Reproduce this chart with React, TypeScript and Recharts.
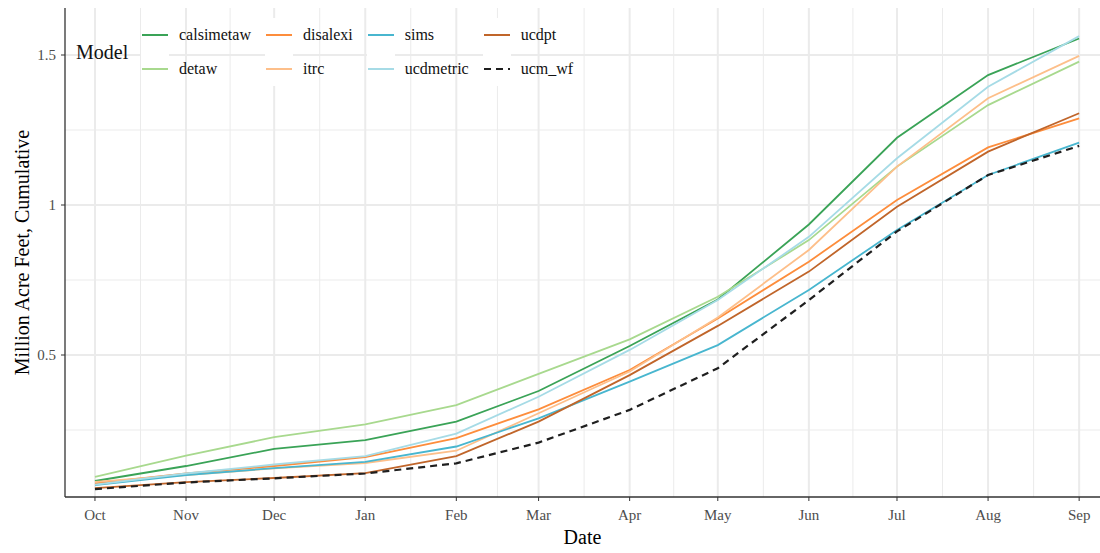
import React from 'react';
import { LineChart, Line, XAxis, YAxis, CartesianGrid, Label } from 'recharts';

const months = ['Oct', 'Nov', 'Dec', 'Jan', 'Feb', 'Mar', 'Apr', 'May', 'Jun', 'Jul', 'Aug', 'Sep'];
// days since Oct 1 for the first of each month (date axis)
const monthDays = [0, 31, 61, 92, 123, 151, 182, 212, 243, 273, 304, 335];

const calsimetaw = [0.08, 0.13, 0.187, 0.216, 0.278, 0.38, 0.53, 0.685, 0.935, 1.224, 1.433, 1.555];
const detaw = [0.094, 0.165, 0.226, 0.269, 0.333, 0.437, 0.552, 0.694, 0.883, 1.128, 1.333, 1.478];
const disalexi = [0.072, 0.105, 0.13, 0.16, 0.223, 0.319, 0.45, 0.622, 0.811, 1.017, 1.192, 1.289];
const itrc = [0.077, 0.1, 0.122, 0.14, 0.181, 0.306, 0.445, 0.625, 0.85, 1.128, 1.356, 1.497];
const sims = [0.066, 0.1, 0.123, 0.144, 0.195, 0.289, 0.411, 0.533, 0.717, 0.917, 1.1, 1.208];
const ucdmetric = [0.068, 0.105, 0.135, 0.163, 0.238, 0.361, 0.517, 0.683, 0.894, 1.156, 1.394, 1.563];
const ucdpt = [0.056, 0.076, 0.09, 0.106, 0.163, 0.278, 0.433, 0.597, 0.778, 0.994, 1.178, 1.306];
const ucm_wf = [0.053, 0.075, 0.089, 0.105, 0.139, 0.208, 0.317, 0.456, 0.683, 0.912, 1.1, 1.197];

const yMajor = [0.5, 1, 1.5];
const yMinor = [0.25, 0.75, 1.25];
const yTickLabels = ['0.5', '1', '1.5'];

const series = [
  { name: 'calsimetaw', values: calsimetaw, color: '#3aa357', dash: undefined },
  { name: 'detaw', values: detaw, color: '#a8d98e', dash: undefined },
  { name: 'disalexi', values: disalexi, color: '#fd8d3c', dash: undefined },
  { name: 'itrc', values: itrc, color: '#fdbf8a', dash: undefined },
  { name: 'sims', values: sims, color: '#48b6cf', dash: undefined },
  { name: 'ucdmetric', values: ucdmetric, color: '#a6dbe6', dash: undefined },
  { name: 'ucdpt', values: ucdpt, color: '#c0652a', dash: undefined },
  { name: 'ucm_wf', values: ucm_wf, color: '#1f1f1f', dash: '7 5' },
];

const data = months.map((m, i) => {
  const row: any = { day: monthDays[i], month: m };
  series.forEach(s => { row[s.name] = s.values[i]; });
  return row;
});

const xMinor = monthDays.slice(1).map((d, i) => (d + monthDays[i]) / 2);

const font = "'Liberation Serif', 'Times New Roman', serif";
const tickStyle = { fill: '#4d4d4d', fontSize: 15, fontFamily: font };

const YTitle = (props: any) => {
  const vb = props.viewBox;
  const cx = vb.x + 22;
  const cy = vb.y + vb.height / 2;
  return (
    <text x={cx} y={cy} transform={`rotate(-90 ${cx} ${cy})`} textAnchor="middle" dominantBaseline="central"
      fontSize={20} fontFamily={font} fill="#000">Million Acre Feet, Cumulative</text>
  );
};

const XTitle = (props: any) => {
  const vb = props.viewBox;
  return (
    <text x={vb.x + vb.width / 2} y={vb.y + 40} textAnchor="middle" dominantBaseline="central"
      fontSize={20} fontFamily={font} fill="#000">Date</text>
  );
};

const LegendBox = () => (
  <div style={{ position: 'absolute', left: 76, top: 18, display: 'flex', alignItems: 'center', fontFamily: font, color: '#111' }}>
    <div style={{ fontSize: 20, width: 65 }}>Model</div>
    <div style={{ display: 'grid', gridAutoFlow: 'column', gridTemplateRows: 'repeat(2, 34px)', columnGap: 14 }}>
      {series.map(s => (
        <div key={s.name} style={{ display: 'flex', alignItems: 'center', height: 34 }}>
          <svg width={28} height={34} style={{ display: 'block' }}>
            <rect x={0} y={0} width={28} height={34} fill="#fff" />
            <line x1={1} x2={27} y1={17} y2={17} stroke={s.color} strokeWidth={s.dash ? 2.2 : 2} strokeDasharray={s.dash ? '7 5' : undefined} />
          </svg>
          <span style={{ fontSize: 16, marginLeft: 10 }}>{s.name}</span>
        </div>
      ))}
    </div>
  </div>
);

export default function App() {
  return (
    <div style={{ position: 'absolute', left: 0, top: 0, width: 1100, height: 553, background: '#fff' }}>
      <LineChart width={1100} height={553} data={data} margin={{ top: 8, right: 0, bottom: 0, left: 0 }}>
        <CartesianGrid stroke="#ebebeb" strokeWidth={1} horizontalValues={yMinor} verticalValues={xMinor} />
        <CartesianGrid stroke="#ebebeb" strokeWidth={2} horizontalValues={yMajor} verticalValues={monthDays} />
        <XAxis dataKey="day" type="number" domain={[-10.2, 342.1]} allowDataOverflow ticks={monthDays}
          tickFormatter={(v: number) => months[monthDays.indexOf(v)]} height={56}
          tick={tickStyle} tickSize={4} tickMargin={8} tickLine={{ stroke: '#333' }}
          axisLine={{ stroke: '#333', strokeWidth: 1.3 }}>
          <Label content={<XTitle />} />
        </XAxis>
        <XAxis xAxisId="top" orientation="top" dataKey="day" type="number" domain={[-10.2, 342.1]} allowDataOverflow
          height={0} tick={false} tickLine={false} axisLine={{ stroke: '#333', strokeWidth: 1.3 }} />
        <YAxis type="number" domain={[0.0267, 1.6567]} allowDataOverflow ticks={yMajor}
          tickFormatter={(v: number) => yTickLabels[yMajor.indexOf(v)]} width={65}
          tick={tickStyle} tickSize={4} tickMargin={5} tickLine={{ stroke: '#333' }}
          axisLine={{ stroke: '#333', strokeWidth: 1.3 }}>
          <Label content={<YTitle />} />
        </YAxis>
        {series.map(s => (
          <Line key={s.name} dataKey={s.name} type="linear" stroke={s.color} strokeWidth={s.dash ? 2.2 : 1.8}
            strokeDasharray={s.dash} dot={false} activeDot={false} isAnimationActive={false} />
        ))}
      </LineChart>
      <LegendBox />
    </div>
  );
}
